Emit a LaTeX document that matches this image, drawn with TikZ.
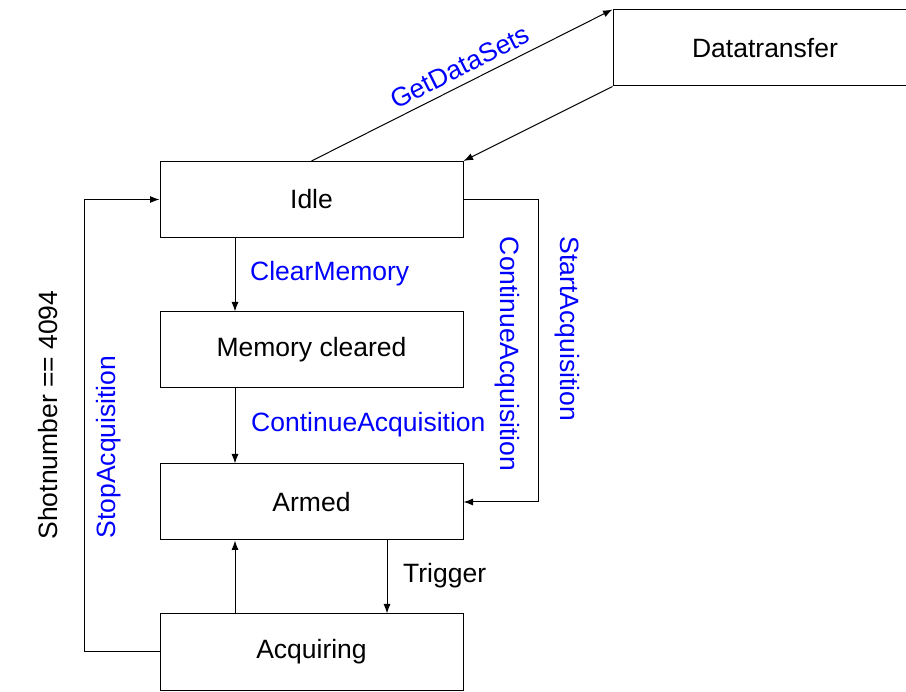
\documentclass[tikz,border=0pt]{standalone}
\usepackage{fontspec}
\setmainfont{Liberation Sans}
\usetikzlibrary{arrows.meta}
\begin{document}
\begin{tikzpicture}[x=1pt,y=-1pt,
  every node/.style={font=\fontsize{26.5}{31}\selectfont},
  state/.style={draw, line width=1pt, minimum width=303pt, minimum height=76pt, inner sep=0pt},
  arr/.style={line width=1pt, -{Latex[length=9.5pt,width=7pt]}},
  lbl/.style={text=blue, inner sep=0pt},
  blk/.style={text=black, inner sep=0pt}]
\useasboundingbox (0,0) rectangle (906,692);
\clip (0,0) rectangle (906,692);
\node[state] (dt) at (765,48) [minimum width=304pt] {Datatransfer};
\node[state] (idle) at (311.5,199.5) {Idle};
\node[state] (mem) at (311.5,350) {Memory cleared};
\node[state] (armed) at (311.5,502) {Armed};
\node[state] (acq) at (311.5,652) {Acquiring};
% to/from datatransfer
\draw[arr] (idle.north) -- (dt.north west);
\draw[arr] (dt.south west) -- (idle.north east);
\node[lbl, rotate=26.8] (lgds) at (460,67) {GetDataSets};
% idle -> mem
\draw[arr] ([xshift=-76.5pt]idle.south) -- ([xshift=-76.5pt]mem.north);
\node[lbl, anchor=west] (lcm) at (250,274) {ClearMemory};
% mem -> armed
\draw[arr] ([xshift=-76.5pt]mem.south) -- ([xshift=-76.5pt]armed.north);
\node[lbl, anchor=west] (lca) at (251,425) {ContinueAcquisition};
% idle -> armed (right loop)
\draw[arr] (idle.east) -- ++(75,0) |- (armed.east);
\node[lbl, rotate=-90] (lca2) at (507,354) {ContinueAcquisition};
\node[lbl, rotate=-90] (lsa) at (567,329) {StartAcquisition};
% armed -> acq
\draw[arr] ([xshift=75.5pt]armed.south) -- ([xshift=75.5pt]acq.north);
\node[blk, anchor=west] (ltr) at (403,576) {Trigger};
% acq -> armed
\draw[arr] ([xshift=-76.5pt]acq.north) -- ([xshift=-76.5pt]armed.south);
% acq -> idle (left loop)
\draw[arr] (acq.west) -- ++(-75,0) |- (idle.west);
\node[blk, rotate=90] (lshot) at (48,415) {Shotnumber == 4094};
\node[lbl, rotate=90] (lstop) at (109,447) {StopAcquisition};
\end{tikzpicture}
\end{document}
